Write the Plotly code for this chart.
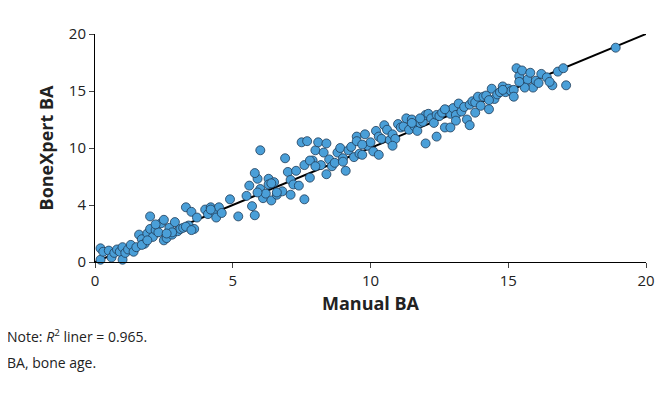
import plotly.graph_objects as go

# Manual BA vs BoneXpert BA (years)
manual_ba = [
    0.2, 0.2, 0.3, 0.5, 0.6, 0.7, 0.8, 0.9, 1.0, 1.0, 1.1, 1.2, 1.3, 1.4, 1.5, 1.6, 1.7, 1.8, 1.9, 2.0,
    2.0, 2.1, 2.2, 2.3, 2.4, 2.5, 2.6, 2.7, 2.8, 2.9, 3.0, 3.1, 3.2, 3.3, 3.4, 3.5, 3.6, 1.7, 1.9, 2.2,
    2.5, 2.8, 3.3, 3.5, 4.0, 4.1, 4.2, 4.3, 4.4, 4.5, 4.6, 4.9, 5.2, 5.5, 5.6, 5.7, 5.8, 5.9, 6.0, 6.0,
    6.1, 6.2, 6.3, 6.4, 6.5, 6.6, 6.8, 6.9, 7.0, 7.1, 7.2, 7.3, 7.4, 7.5, 7.6, 7.7, 7.8, 7.9, 8.0, 8.1,
    8.2, 8.3, 8.4, 8.5, 8.6, 8.7, 8.8, 8.9, 9.0, 9.1, 9.2, 9.3, 9.4, 9.5, 9.6, 9.7, 9.8, 9.9, 10.0, 10.1,
    10.2, 10.3, 10.4, 10.5, 10.6, 10.7, 10.8, 10.9, 11.0, 11.1, 11.2, 11.3, 11.4, 11.5, 11.6, 11.7, 11.8, 11.9, 12.0, 12.1,
    12.2, 12.3, 12.4, 12.5, 12.6, 12.7, 12.8, 12.9, 13.0, 13.1, 13.2, 13.3, 13.4, 13.5, 13.6, 13.7, 13.8, 13.9, 14.0, 14.1,
    14.2, 14.3, 14.4, 14.5, 14.6, 14.7, 14.8, 14.9, 15.0, 15.1, 15.2, 15.3, 15.4, 15.5, 15.6, 15.7, 15.8, 15.9, 16.0, 16.1,
    16.2, 16.4, 16.6, 16.8, 17.0, 17.1, 18.9, 5.8, 6.3, 7.6, 7.8, 9.5, 10.3, 11.8, 12.4, 13.1, 13.6, 14.3, 15.2, 15.6,
    4.2, 5.9, 6.6, 8.4, 9.0, 10.8, 12.0, 12.9, 13.8, 14.8, 3.7, 6.4, 7.1, 8.0, 9.7, 11.5, 12.7, 15.4, 16.5, 2.6,
]
bonexpert_ba = [
    1.2, 0.2, 0.9, 1.0, 0.4, 0.8, 1.1, 0.9, 1.3, 0.2, 0.8, 1.1, 1.5, 0.9, 1.3, 2.4, 2.0, 1.6, 2.5, 4.0,
    2.9, 2.2, 2.8, 2.6, 3.4, 1.9, 2.1, 3.0, 2.4, 3.5, 2.7, 2.9, 3.0, 4.8, 3.2, 4.4, 2.9, 1.5, 1.9, 3.3,
    3.7, 2.6, 3.1, 2.8, 4.6, 4.2, 4.8, 4.5, 3.9, 4.8, 4.3, 5.5, 4.0, 5.8, 6.7, 4.9, 4.1, 7.3, 6.4, 9.8,
    5.6, 6.0, 7.3, 5.4, 7.0, 5.9, 6.2, 9.1, 7.9, 7.2, 6.8, 8.0, 6.7, 10.5, 8.5, 10.6, 7.4, 8.9, 9.8, 10.5,
    8.5, 9.6, 10.4, 9.0, 8.4, 8.7, 9.6, 10.0, 9.1, 8.0, 9.8, 10.1, 9.2, 11.0, 9.5, 9.4, 11.2, 10.2, 10.5, 9.7,
    11.5, 11.0, 10.8, 12.0, 11.6, 10.7, 11.2, 10.8, 12.1, 11.8, 11.9, 12.6, 11.6, 12.5, 11.9, 11.5, 12.2, 12.3, 12.9, 13.0,
    12.6, 12.2, 12.9, 12.8, 13.1, 11.8, 13.3, 13.0, 13.5, 12.9, 13.9, 13.2, 13.6, 12.5, 13.8, 14.1, 14.0, 14.5, 13.7, 14.5,
    14.6, 13.4, 15.2, 14.3, 14.7, 14.9, 15.4, 14.9, 15.2, 15.0, 15.1, 17.0, 16.3, 16.8, 15.7, 16.0, 16.6, 15.3, 15.9, 15.7,
    16.5, 16.2, 15.5, 16.7, 17.0, 15.5, 18.8, 7.8, 6.8, 5.5, 8.9, 10.6, 9.4, 12.6, 11.0, 12.4, 12.0, 14.2, 14.5, 15.3,
    4.6, 6.1, 6.1, 7.7, 8.8, 10.2, 10.4, 11.8, 13.1, 15.1, 3.9, 6.9, 5.9, 8.4, 10.3, 12.2, 13.4, 15.8, 15.8, 2.5,
]
line_x = [0, 20]

fig = go.Figure()
fig.add_trace(go.Scatter(x=line_x, y=line_x, mode="lines",
                         line=dict(color="black", width=2), hoverinfo="skip"))
fig.add_trace(go.Scatter(x=manual_ba, y=bonexpert_ba, mode="markers",
                         marker=dict(size=9, color="#4a9fd8", line=dict(color="#1f3b57", width=0.8))))

fig.update_layout(
    width=670, height=401, showlegend=False,
    plot_bgcolor="white", paper_bgcolor="white",
    margin=dict(l=87, r=32, t=26, b=147),
    font=dict(family="Open Sans", color="#222"),
    xaxis=dict(range=[0, 20], tickvals=[0, 5, 10, 15, 20], showgrid=False, zeroline=False,
               showline=True, linecolor="black", ticks="outside", ticklen=5,
               tickfont=dict(size=15), automargin=False,
               title=dict(text="<b>Manual BA</b>", font=dict(size=18), standoff=8)),
    yaxis=dict(range=[0, 20], tickvals=[0, 5, 10, 15, 20], ticktext=["0", "4", "10", "15", "20"],
               showgrid=False, zeroline=False, showline=True, linecolor="black",
               ticks="outside", ticklen=5, tickfont=dict(size=15), automargin=False,
               title=dict(text="<b>BoneXpert BA</b>", font=dict(size=18), standoff=10)),
)
fig.add_annotation(text="Note: <i>R</i><sup>2</sup> liner = 0.965.", xref="paper", yref="paper",
                   x=-0.005, y=-0.375, xanchor="left", xshift=-87, showarrow=False,
                   font=dict(size=14, family="Open Sans"))
fig.add_annotation(text="BA, bone age.", xref="paper", yref="paper",
                   x=-0.005, y=-0.49, xanchor="left", xshift=-87, showarrow=False,
                   font=dict(size=14, family="Open Sans"))
fig.update_traces(cliponaxis=False)

fig.write_html("out.html")
